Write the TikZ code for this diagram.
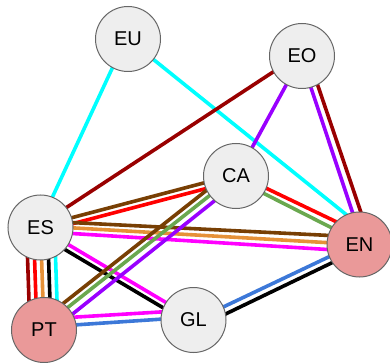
\documentclass[tikz,border=0pt]{standalone}
\usepackage{fontspec}
\setmainfont{Liberation Sans}
\usetikzlibrary{calc,backgrounds}
\definecolor{cDR}{HTML}{990000}
\definecolor{cRed}{HTML}{FF0000}
\definecolor{cOr}{HTML}{E69138}
\definecolor{cCy}{HTML}{00FFFF}
\definecolor{cBr}{HTML}{783F04}
\definecolor{cGr}{HTML}{6AA84F}
\definecolor{cPu}{HTML}{9900FF}
\definecolor{cMa}{HTML}{FF00FF}
\definecolor{cBl}{HTML}{3C78D8}
\definecolor{cGray}{HTML}{EEEEEE}
\definecolor{cPink}{HTML}{EA9999}
\definecolor{cBorder}{HTML}{666666}
\tikzset{
  city/.style={circle, draw=cBorder, line width=1pt, fill=cGray, minimum size=65pt, inner sep=0pt, font=\fontsize{20}{24}\selectfont},
  hub/.style={city, fill=cPink},
  routeline/.style={line width=3.6pt},
}
\newcommand\rline[5]{\draw[routeline,#1] ($(#2)!#4pt!90:(#3)$) -- ($(#3)!#5pt!-90:(#2)$);}
\begin{document}
\begin{tikzpicture}[x=1pt,y=-1pt]
\useasboundingbox (0,0) rectangle (390,363);
\node[city] (EU) at (128,39) {EU};
\node[city] (EO) at (302,56) {EO};
\node[city] (CA) at (236,176) {CA};
\node[city] (ES) at (40.5,227.5) {ES};
\node[hub] (EN) at (359.5,244.5) {EN};
\node[hub] (PT) at (44,330) {PT};
\node[city] (GL) at (193.5,320) {GL};
\begin{pgfonlayer}{background}
\rline{cCy}{EU}{ES}{-2}{-2}
\rline{cCy}{EU}{EN}{0}{15}
\rline{cDR}{EO}{ES}{-2.5}{-2.5}
\rline{cPu}{EO}{CA}{0}{0.5}
\rline{cPu}{EO}{EN}{-1.5}{3.5}
\rline{cDR}{EO}{EN}{5.5}{11.7}
\rline{cBr}{CA}{ES}{-1.5}{-1.5}
\rline{cRed}{CA}{ES}{4.5}{4.5}
\rline{cRed}{CA}{EN}{2}{10.5}
\rline{cGr}{CA}{EN}{-3}{2.3}
\rline{cBr}{ES}{EN}{6.5}{7.5}
\rline{cOr}{ES}{EN}{1.5}{0}
\rline{cMa}{ES}{EN}{-4}{-7}
\rline{cDR}{ES}{PT}{-14}{-14}
\rline{cRed}{ES}{PT}{-7}{-7}
\rline{cOr}{ES}{PT}{0}{0}
\rline{black}{ES}{PT}{7}{7}
\rline{cCy}{ES}{PT}{14}{14}
\rline{cMa}{ES}{GL}{-0.5}{1}
\rline{black}{ES}{GL}{-6.5}{-5}
\rline{cBr}{CA}{PT}{-7}{-9}
\rline{cGr}{CA}{PT}{-1}{-3}
\rline{cPu}{CA}{PT}{6}{5.3}
\rline{cMa}{PT}{GL}{11}{10}
\rline{cBl}{PT}{GL}{3}{3}
\rline{cBl}{GL}{EN}{-1}{2}
\rline{black}{GL}{EN}{-8.5}{-4.5}
\end{pgfonlayer}
\end{tikzpicture}
\end{document}
